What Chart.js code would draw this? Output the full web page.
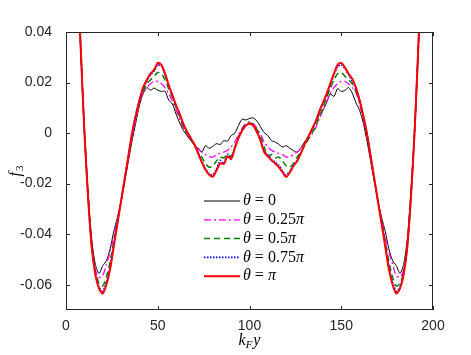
<!DOCTYPE html>
<html>
<head>
<meta charset="utf-8">
<script src="https://cdn.jsdelivr.net/npm/chart.js@4.4.1/dist/chart.umd.min.js"></script>
<style>
  html, body { margin: 0; padding: 0; background: #fff; }
  #wrap { width: 471px; height: 355px; }
</style>
</head>
<body>
<div id="wrap"><canvas id="myChart" width="471" height="355"></canvas></div>
<script>
'use strict';
// k_F y positions
const kfy = [0,2,4,6,8,10,12,14,16,18,20,22,24,26,28,30,32,34,36,38,
  40,42,44,46,48,50,52,54,56,58,60,62,64,66,68,70,72,74,76,78,
  80,82,84,86,88,90,92,94,96,98,100,102,104,106,108,110,112,114,116,118,
  120,122,124,126,128,130,132,134,136,138,140,142,144,146,148,150,152,154,156,158,
  160,162,164,166,168,170,172,174,176,178,180,182,184,186,188,190,192,194,196,198,200];
const xTicks = [0, 50, 100, 150, 200];
const yTicks = [-0.06, -0.04, -0.02, 0, 0.02, 0.04];
const thetaLabels = ['0', '0.25π', '0.5π', '0.75π', 'π'];

// f_3 for each theta
const f3Theta0 = [0.16,0.13,0.10,0.068,0.034,0.002,-0.023,-0.042,-0.052,-0.0555,
  -0.0525,-0.0505,-0.046,-0.039,-0.0335,-0.027,-0.019,-0.011,-0.003,0.004,
  0.011,0.0155,0.018,0.017,0.0178,0.017,0.0165,0.0165,0.013,0.0115,
  0.0075,0.004,0.001,-0.001,-0.003,-0.0045,-0.0063,-0.0075,-0.005,-0.006,
  -0.0052,-0.0042,-0.0045,-0.003,-0.0032,-0.001,0.0,0.003,0.0055,0.0052,
  0.0058,
  0.006,0.0048,0.0025,0.0002,-0.001,-0.003,-0.0035,-0.0045,-0.0055,-0.005,
  -0.006,-0.007,-0.0075,-0.0058,-0.0035,-0.0015,0.001,0.0045,0.007,0.009,
  0.012,0.0155,0.0145,0.0176,0.0165,0.0169,0.018,0.0158,0.012,0.009,
  0.004,-0.003,-0.011,-0.019,-0.027,-0.0335,-0.039,-0.046,-0.0505,-0.0525,
  -0.0555,-0.052,-0.042,-0.023,0.002,0.034,0.068,0.10,0.13,0.16];
const f3Theta025 = [0.16,0.13,0.10,0.068,0.034,0.001,-0.024,-0.044,-0.054,-0.057,
  -0.0565,-0.052,-0.047,-0.041,-0.034,-0.027,-0.019,-0.0105,-0.002,0.005,
  0.0115,0.016,0.018,0.0195,0.0205,0.0205,0.0195,0.018,0.0155,0.0125,
  0.009,0.0055,0.002,-0.0005,-0.0025,-0.0045,-0.006,-0.0075,-0.0085,-0.0093,
  -0.0095,-0.0085,-0.008,-0.0075,-0.0068,-0.0055,-0.0035,-0.0005,0.002,0.0038,
  0.0045,
  0.0038,0.002,-0.0005,-0.0035,-0.0055,-0.0068,-0.0075,-0.008,-0.0085,-0.0095,
  -0.0093,-0.0085,-0.0075,-0.006,-0.0045,-0.0025,-0.0005,0.002,0.0055,0.009,
  0.0125,0.0155,0.018,0.0195,0.0205,0.0205,0.0195,0.018,0.016,0.0115,
  0.005,-0.002,-0.0105,-0.019,-0.027,-0.034,-0.041,-0.047,-0.052,-0.0565,
  -0.057,-0.054,-0.044,-0.024,0.001,0.034,0.068,0.10,0.13,0.16];
const f3Theta05 = [0.16,0.13,0.10,0.068,0.034,0.001,-0.0245,-0.044,-0.055,-0.0595,
  -0.0605,-0.057,-0.051,-0.043,-0.035,-0.027,-0.0185,-0.0095,-0.001,0.006,
  0.0125,0.0165,0.0195,0.021,0.0225,0.024,0.0235,0.021,0.0175,0.014,
  0.010,0.0065,0.0025,0.0,-0.0025,-0.005,-0.0075,-0.0095,-0.012,-0.0135,
  -0.013,-0.011,-0.0095,-0.0098,-0.0085,-0.0092,-0.0055,-0.0015,0.0015,0.0035,
  0.004,
  0.0035,0.0015,-0.0015,-0.0055,-0.0092,-0.0085,-0.0098,-0.0095,-0.011,-0.013,
  -0.0135,-0.012,-0.0095,-0.0075,-0.005,-0.0025,0.0,0.0025,0.0065,0.010,
  0.014,0.0175,0.021,0.0235,0.024,0.0225,0.021,0.0195,0.0165,0.0125,
  0.006,-0.001,-0.0095,-0.0185,-0.027,-0.035,-0.043,-0.051,-0.057,-0.0605,
  -0.0595,-0.055,-0.044,-0.0245,0.001,0.034,0.068,0.10,0.13,0.16];
const f3Theta075 = [0.16,0.13,0.10,0.068,0.034,0.001,-0.025,-0.045,-0.0555,-0.061,
  -0.0625,-0.059,-0.053,-0.0445,-0.0355,-0.027,-0.018,-0.009,0.0,0.007,
  0.013,0.0175,0.0205,0.023,0.0245,0.027,0.0265,0.023,0.0185,0.0148,
  0.0108,0.0073,0.0033,0.0004,-0.002,-0.0045,-0.0078,-0.011,-0.014,-0.016,
  -0.0165,-0.0142,-0.0108,-0.012,-0.0083,-0.0102,-0.006,-0.002,0.001,0.003,
  0.0037,
  0.003,0.0005,-0.003,-0.0072,-0.0085,-0.0104,-0.0115,-0.0127,-0.015,-0.0166,
  -0.015,-0.0126,-0.0107,-0.0078,-0.0045,-0.0015,0.0013,0.0043,0.0083,0.0118,
  0.015,0.019,0.023,0.0262,0.027,0.0255,0.023,0.0205,0.0175,0.013,
  0.007,0.0,-0.009,-0.018,-0.027,-0.0355,-0.0445,-0.053,-0.059,-0.0625,
  -0.061,-0.0555,-0.045,-0.025,0.001,0.034,0.068,0.10,0.13,0.16];
const f3ThetaPi = [0.16,0.13,0.10,0.068,0.034,0.001,-0.025,-0.045,-0.056,-0.0615,
  -0.0635,-0.060,-0.054,-0.045,-0.036,-0.027,-0.018,-0.009,0.0,0.007,
  0.013,0.018,0.021,0.0235,0.025,0.0278,0.027,0.0235,0.019,0.015,
  0.011,0.0075,0.0035,0.0005,-0.002,-0.0045,-0.008,-0.0115,-0.0145,-0.0165,
  -0.0172,-0.0148,-0.012,-0.0122,-0.0092,-0.0102,-0.006,-0.002,0.001,0.003,
  0.0037,
  0.003,0.0005,-0.003,-0.0075,-0.0092,-0.0108,-0.012,-0.0135,-0.0155,-0.0174,
  -0.0155,-0.013,-0.011,-0.008,-0.0045,-0.0015,0.0015,0.0045,0.0085,0.012,
  0.0155,0.0195,0.0235,0.027,0.0278,0.026,0.0235,0.0215,0.018,0.013,
  0.007,0.0,-0.009,-0.018,-0.027,-0.036,-0.045,-0.054,-0.060,-0.0635,
  -0.0615,-0.056,-0.045,-0.025,0.001,0.034,0.068,0.10,0.13,0.16];

const allSeries = [f3Theta0, f3Theta025, f3Theta05, f3Theta075, f3ThetaPi];
const lineColors = ['#000000', '#ff00ff', '#008000', '#0000ff', '#ff0000'];
const lineWidths = [1, 1.3, 1.5, 1.6, 2];
const lineDashes = [[], [7, 3, 2, 3], [6, 4], [1.5, 1.5], []];

const mathFont = '"Liberation Serif", "DejaVu Serif", serif';
const tickColor = '#262626';

// draws a run of [text, italic, size, dy, gap] pieces starting at x
function drawMath(ctx, pieces, x, y) {
  let cx = x;
  pieces.forEach(p => {
    ctx.font = (p[1] ? 'italic ' : '') + p[2] + 'px ' + mathFont;
    ctx.fillText(p[0], cx, y + (p[3] || 0));
    cx += ctx.measureText(p[0]).width + (p[4] || 0);
  });
  return cx;
}
function mathWidth(ctx, pieces) {
  let w = 0;
  pieces.forEach(p => {
    ctx.font = (p[1] ? 'italic ' : '') + p[2] + 'px ' + mathFont;
    w += ctx.measureText(p[0]).width + (p[4] || 0);
  });
  return w;
}

const axisBox = {
  id: 'axisBox',
  afterDatasetsDraw(chart) {
    const { ctx, chartArea: a, scales: { x, y } } = chart;
    ctx.save();
    ctx.strokeStyle = tickColor;
    ctx.lineWidth = 1;
    ctx.beginPath();
    xTicks.forEach(v => {
      const px = Math.round(x.getPixelForValue(v)) + 0.5;
      ctx.moveTo(px, a.bottom); ctx.lineTo(px, a.bottom - 4);
      ctx.moveTo(px, a.top); ctx.lineTo(px, a.top + 4);
    });
    yTicks.forEach(v => {
      const py = Math.round(y.getPixelForValue(v)) + 0.5;
      ctx.moveTo(a.left, py); ctx.lineTo(a.left + 4, py);
      ctx.moveTo(a.right, py); ctx.lineTo(a.right - 4, py);
    });
    ctx.stroke();
    ctx.strokeRect(a.left + 0.5, a.top + 0.5, a.right - a.left - 1, a.bottom - a.top - 1);

    // axis titles
    ctx.fillStyle = '#000';
    ctx.textBaseline = 'alphabetic';
    ctx.textAlign = 'left';
    const xt = [['k', true, 16], ['F', true, 11, 3, 1], ['y', true, 16]];
    const xw = mathWidth(ctx, xt);
    drawMath(ctx, xt, (a.left + a.right) / 2 - xw / 2, 345);

    ctx.save();
    ctx.translate(20, (a.top + a.bottom) / 2);
    ctx.rotate(-Math.PI / 2);
    const yt = [['f', true, 16, 0, 1], ['3', false, 11, 3]];
    const yw = mathWidth(ctx, yt);
    drawMath(ctx, yt, -yw / 2, 0);
    ctx.restore();

    // legend
    const rowY = [201, 219.8, 238.6, 257.4, 276.2];
    chart.data.datasets.forEach((ds, i) => {
      const ly = rowY[i];
      ctx.beginPath();
      ctx.strokeStyle = ds.borderColor;
      ctx.lineWidth = ds.borderWidth;
      ctx.setLineDash(ds.borderDash);
      ctx.moveTo(204, ly); ctx.lineTo(240, ly);
      ctx.stroke();
      ctx.setLineDash([]);
      ctx.fillStyle = '#000';
      ctx.textBaseline = 'middle';
      const lab = thetaLabels[i];
      const pieces = [['θ', true, 16, 0, 4], ['=', false, 16, 0, 4]];
      if (lab.endsWith('π')) {
        if (lab.length > 1) pieces.push([lab.slice(0, -1), false, 16]);
        pieces.push(['π', true, 16]);
      } else {
        pieces.push([lab, false, 16]);
      }
      drawMath(ctx, pieces, 243, ly);
    });
    ctx.restore();
  }
};

const datasets = allSeries.map((series, i) => ({
  label: 'θ = ' + thetaLabels[i],
  data: series.map((v, j) => ({ x: kfy[j], y: v })),
  borderColor: lineColors[i],
  borderWidth: lineWidths[i],
  borderDash: lineDashes[i],
  pointRadius: 0,
  tension: 0.25,
  fill: false,
  order: allSeries.length - i
}));

const ctx = document.getElementById('myChart').getContext('2d');
const myChart = new Chart(ctx, {
  type: 'line',
  data: { datasets: datasets },
  options: {
    responsive: false,
    animation: false,
    devicePixelRatio: 1,
    layout: { padding: { left: 0, right: 38, top: 32, bottom: 0 } },
    plugins: { legend: { display: false }, tooltip: { enabled: false } },
    scales: {
      x: {
        type: 'linear',
        min: 0,
        max: 200,
        afterBuildTicks: s => { s.ticks = xTicks.map(v => ({ value: v })); },
        afterFit: s => { s.height = 45; },
        grid: { display: false },
        border: { display: false },
        ticks: {
          padding: 0,
          color: tickColor,
          font: { family: '"Liberation Sans", Arial, sans-serif', size: 14 },
          maxRotation: 0
        }
      },
      y: {
        type: 'linear',
        min: -0.07,
        max: 0.04,
        afterBuildTicks: s => { s.ticks = yTicks.map(v => ({ value: v })); },
        afterFit: s => { s.width = 66; },
        grid: { display: false },
        border: { display: false },
        ticks: {
          padding: 6,
          color: tickColor,
          font: { family: '"Liberation Sans", Arial, sans-serif', size: 14 },
          callback: v => (v === 0 ? '0' : v.toFixed(2))
        }
      }
    }
  },
  plugins: [axisBox]
});
</script>
</body>
</html>
